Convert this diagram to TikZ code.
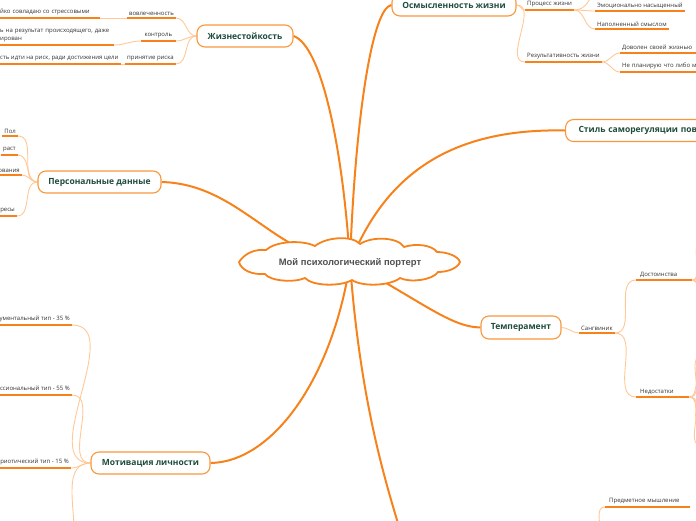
\documentclass[tikz,border=0pt]{standalone}
\usepackage{fontspec}
\setmainfont{Open Sans}
\newfontfamily\rootfont{Liberation Sans}
\usetikzlibrary{backgrounds,calc}
\definecolor{mainor}{HTML}{F7821B}
\definecolor{lightor}{HTML}{FFC896}
\definecolor{boxor}{HTML}{F8983E}
\definecolor{topictxt}{HTML}{1E4D3B}
\definecolor{subtxt}{HTML}{333333}
\definecolor{roottxt}{HTML}{505050}
\tikzset{
 topic/.style={draw=boxor, line width=1.1pt, fill=white, rounded corners=8pt, minimum height=22pt, font=\bfseries\fontsize{8.5}{10}\selectfont, text=topictxt, inner xsep=6pt},
 sub/.style={font=\fontsize{6}{8}\selectfont, text=subtxt, inner xsep=2pt, inner ysep=2.5pt},
 uline/.style={draw=mainor, line width=1.3pt},
 mainline/.style={draw=mainor, line width=2pt},
 thinline/.style={draw=lightor, line width=0.9pt},
 cloudline/.style={draw=mainor, line width=1.8pt, fill=white, line join=round},
 roottext/.style={inner sep=0pt, font=\rootfont\bfseries\fontsize{9.4}{11}\selectfont, text=roottxt}
}
\begin{document}
\begin{tikzpicture}[x=1pt,y=-1pt]
\useasboundingbox (0,0) rectangle (696,520);
\clip (0,0) rectangle (696,520);
% central cloud
\path[cloudline] (239,262) .. controls (245,253) and (255,249) .. (266,250)
 .. controls (274,242) and (300,239) .. (315,246)
 .. controls (326,237) and (352,235) .. (360,244)
 .. controls (372,236) and (398,237) .. (404,247)
 .. controls (416,243) and (432,245) .. (437,252)
 .. controls (447,252) and (458,256) .. (460,262)
 .. controls (458,268) and (448,272) .. (438,272)
 .. controls (433,280) and (410,283) .. (400,278)
 .. controls (390,286) and (362,287) .. (352,280)
 .. controls (340,287) and (312,286) .. (305,278)
 .. controls (294,283) and (270,281) .. (265,274)
 .. controls (252,275) and (241,270) .. (239,262) -- cycle;
\node[roottext] (root) at (350,263) {Мой психологический портерт};
% topics
\node[topic, minimum width=96pt] (zh) at (245,36) {Жизнестойкость};
\node[topic, minimum width=124pt] (os) at (454,5) {Осмысленность жизни};
\node[topic, minimum width=123pt] (pd) at (99.5,182) {Персональные данные};
\node[topic, anchor=west, text width=150pt, align=left, inner xsep=13pt] (st) at (565,130.5) {Стиль саморегуляции повед};
\node[topic, minimum width=80pt, minimum height=23pt] (te) at (521,327.5) {Темперамент};
\node[topic, minimum width=119pt] (mo) at (150.5,463) {Мотивация личности};
% Жизнестойкость subtopics
\node[sub, anchor=south east] (z1) at (176,18) {вовлеченность};
\node[sub, anchor=south east, minimum width=35pt] (z2) at (176,41) {контроль};
\node[sub, anchor=south east] (z3) at (176,64) {принятие риска};
\node[sub, anchor=south west, text width=98pt, align=left] (z1c) at (-2,18) {йко совладаю со стрессовыми};
\node[sub, anchor=south west, text width=112pt, align=left] (z2c) at (-2,45) {ь на результат происходящего, даже\\ирован};
\node[sub, anchor=south west] (z3c) at (-2,64) {сть идти на риск, ради достижения цели};
% Осмысленность subtopics
\node[sub, anchor=south west] (o1) at (525,10) {Процесс жизни};
\node[sub, anchor=south west] (o1a) at (595,11) {Эмоционально насыщенный};
\node[sub, anchor=south west] (o1b) at (595,29) {Наполненный смыслом};
\node[sub, anchor=south west] (o2) at (525,62) {Результативность жизни};
\node[sub, anchor=south west, text width=72pt, align=left] (o2a) at (620,53) {Доволен своей жизнью};
\node[sub, anchor=south west, text width=90pt, align=left] (o2b) at (620,72) {Не планирую что либо м};
% Персональные данные subtopics
\node[sub, anchor=south east] (p1) at (18,136) {Пол};
\node[sub, anchor=south east] (p2) at (18,155) {раст};
\node[sub, anchor=south east] (p3) at (22,175) {ования};
\node[sub, anchor=south east] (p4) at (17,216) {ресы};
% Мотивация subtopics
\node[sub, anchor=south east] (m1) at (72,325) {рументальный тип - 35 \%};
\node[sub, anchor=south east] (m2) at (72,395) {фессиональный тип - 55 \%};
\node[sub, anchor=south east] (m3) at (71,468) {триотический тип - 15 \%};
% Темперамент subtopics
\node[sub, anchor=south west] (t1) at (579,333) {Сангвиник};
\node[sub, anchor=south west, text width=48pt, align=left, inner xsep=4pt] (t2) at (636,280) {Достоинства};
\node[sub, anchor=south west, text width=45pt, align=left, inner xsep=4pt] (t3) at (636,397) {Недостатки};
% bottom right
\node[sub, anchor=south west, text width=77pt, align=left, inner xsep=4pt] (b1) at (605,507) {Предметное мышление};
% off-screen coordinates
\coordinate (bot) at (400,530);
\coordinate (o1up) at (592,-12);
\coordinate (mdown) at (74,530);
\coordinate (bup) at (600,530);
\foreach \i/\y in {1/243,2/262,3/290,4/312} \coordinate (ta\i) at (702,\y);
\foreach \i/\y in {1/356,2/378,3/410,4/428,5/446} \coordinate (tb\i) at (702,\y);
% underlines
\foreach \n in {z1,z2,z3,z1c,z2c,z3c,o1,o1a,o1b,o2,o2a,o2b,p1,p2,p3,p4,m1,m2,m3,t1,t2,t3,b1}
  \draw[uline] (\n.south west) -- (\n.south east);
\begin{scope}[on background layer]
 % main connectors
 \draw[mainline] (root.center) .. controls (343,150) and (322,46) .. (zh.east);
 \draw[mainline] (root.center) .. controls (355,120) and (372,8) .. (os.west);
 \draw[mainline] (root.center) .. controls (275,258) and (240,184) .. (pd.east);
 \draw[mainline] (root.center) .. controls (385,175) and (450,128) .. (st.west);
 \draw[mainline] (root.center) .. controls (420,300) and (450,327) .. (te.west);
 \draw[mainline] (root.center) .. controls (332,380) and (272,462) .. (mo.east);
 \draw[mainline] (root.center) .. controls (360,400) and (385,480) .. (bot);
 % thin connectors
 \foreach \n in {z1,z2,z3} \draw[thinline] (zh.west) to[out=180,in=0] (\n.south east);
 \draw[thinline] (z1.south west) -- (z1c.south east);
 \draw[thinline] (z2.south west) to[out=180,in=0] (z2c.south east);
 \draw[thinline] (z3.south west) -- (z3c.south east);
 \foreach \n in {o1,o2} \draw[thinline] (os.east) to[out=0,in=180] (\n.south west);
 \foreach \n in {o1a,o1b} \draw[thinline] (o1.south east) to[out=0,in=180] (\n.south west);
 \draw[thinline] (o1.south east) to[out=0,in=270] (o1up);
 \foreach \n in {o2a,o2b} \draw[thinline] (o2.south east) to[out=0,in=180] (\n.south west);
 \foreach \n in {p1,p2,p3,p4} \draw[thinline] (pd.west) to[out=180,in=0] (\n.south east);
 \foreach \n in {m1,m2,m3} \draw[thinline] (mo.west) to[out=180,in=0] (\n.south east);
 \draw[thinline] (mo.west) to[out=180,in=90] (mdown);
 \draw[thinline] (te.east) to[out=0,in=180] (t1.south west);
 \foreach \n in {t2,t3} \draw[thinline] (t1.south east) to[out=0,in=180] (\n.south west);
 \foreach \i in {1,...,4} \draw[thinline] (t2.south east) to[out=0,in=180] (ta\i);
 \foreach \i in {1,...,5} \draw[thinline] (t3.south east) to[out=0,in=180] (tb\i);
 \draw[thinline] (b1.south west) to[out=180,in=90] (bup);
\end{scope}
\end{tikzpicture}
\end{document}
